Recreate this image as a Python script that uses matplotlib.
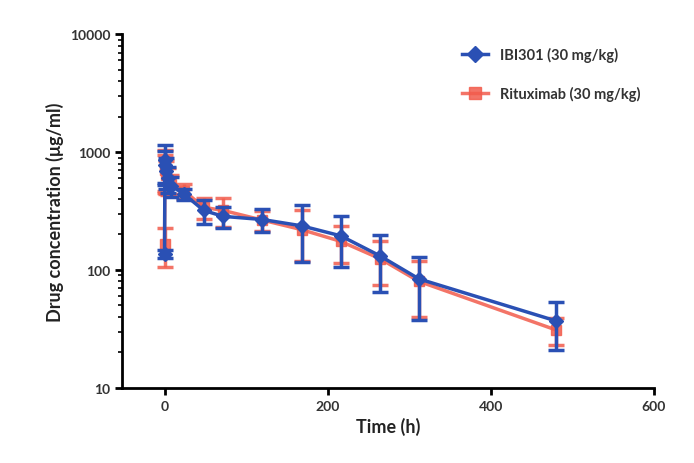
import numpy as np
import matplotlib
matplotlib.use("Agg")
import matplotlib.pyplot as plt
from matplotlib.lines import Line2D

plt.rcParams['font.family'] = ['Lato', 'DejaVu Sans']
plt.rcParams['font.weight'] = 'bold'

# Sampling times (h)
time_h = [0, 0.5, 1, 2, 4, 8, 24, 48, 72, 120, 168, 216, 264, 312, 480]

# IBI301 (30 mg/kg) mean and SD (ug/ml)
ibi_mean = [137, 850, 780, 690, 600, 520, 440, 320, 285, 268, 237, 195, 132, 84, 37]
ibi_sd = [10, 300, 250, 200, 150, 100, 50, 75, 58, 60, 120, 90, 67, 46, 16]

# Rituximab (30 mg/kg) mean and SD (ug/ml)
rit_mean = [165, 760, 700, 640, 580, 540, 470, 340, 320, 265, 220, 175, 125, 80, 31]
rit_sd = [60, 290, 250, 200, 150, 100, 70, 70, 90, 50, 100, 60, 50, 40, 8]

blue = '#2a50b4'
red = '#f25c4c'

fig = plt.figure(figsize=(6.94, 4.64), dpi=100)
ax = fig.add_axes([0.176, 0.162, 0.766, 0.762])

ax.errorbar(time_h, rit_mean, yerr=rit_sd, color=red, marker='s', markersize=7,
            linewidth=2.5, elinewidth=2.5, capsize=6, capthick=2.5, alpha=0.85,
            zorder=2)
ax.errorbar(time_h, ibi_mean, yerr=ibi_sd, color=blue, marker='D', markersize=7,
            linewidth=2.5, elinewidth=2.5, capsize=6, capthick=2.5, zorder=3)

ax.set_yscale('log')
ax.set_ylim(10, 10000)
ax.set_xlim(-52, 600)
ax.set_xticks([0, 200, 400, 600])
ax.set_yticks([10, 100, 1000, 10000])
ax.set_yticklabels(['10', '100', '1000', '10000'])

for s in ['top', 'right']:
    ax.spines[s].set_visible(False)
for s in ['left', 'bottom']:
    ax.spines[s].set_linewidth(2)
ax.tick_params(axis='both', which='major', width=2, length=5, labelsize=10,
               labelcolor='#333333', direction='out')
ax.tick_params(axis='y', which='minor', width=1.2, length=3)

ax.set_xlabel('Time (h)', fontsize=13, fontweight='bold', color='#222222')
ax.set_ylabel('Drug concentration (μg/ml)', fontsize=13, fontweight='bold', color='#222222')

# legend shows line + marker only
handles = [Line2D([], [], color=blue, marker='D', markersize=8, linewidth=2.5),
           Line2D([], [], color=red, marker='s', markersize=8, linewidth=2.5, alpha=0.85)]
labels = ['IBI301 (30 mg/kg)', 'Rituximab (30 mg/kg)']
ax.legend(handles, labels, loc='upper right', bbox_to_anchor=(1.0, 1.0),
          frameon=False, fontsize=10.5, labelspacing=1.6, handlelength=1.8,
          labelcolor='#333333')

fig.savefig('out.png', dpi=100)
